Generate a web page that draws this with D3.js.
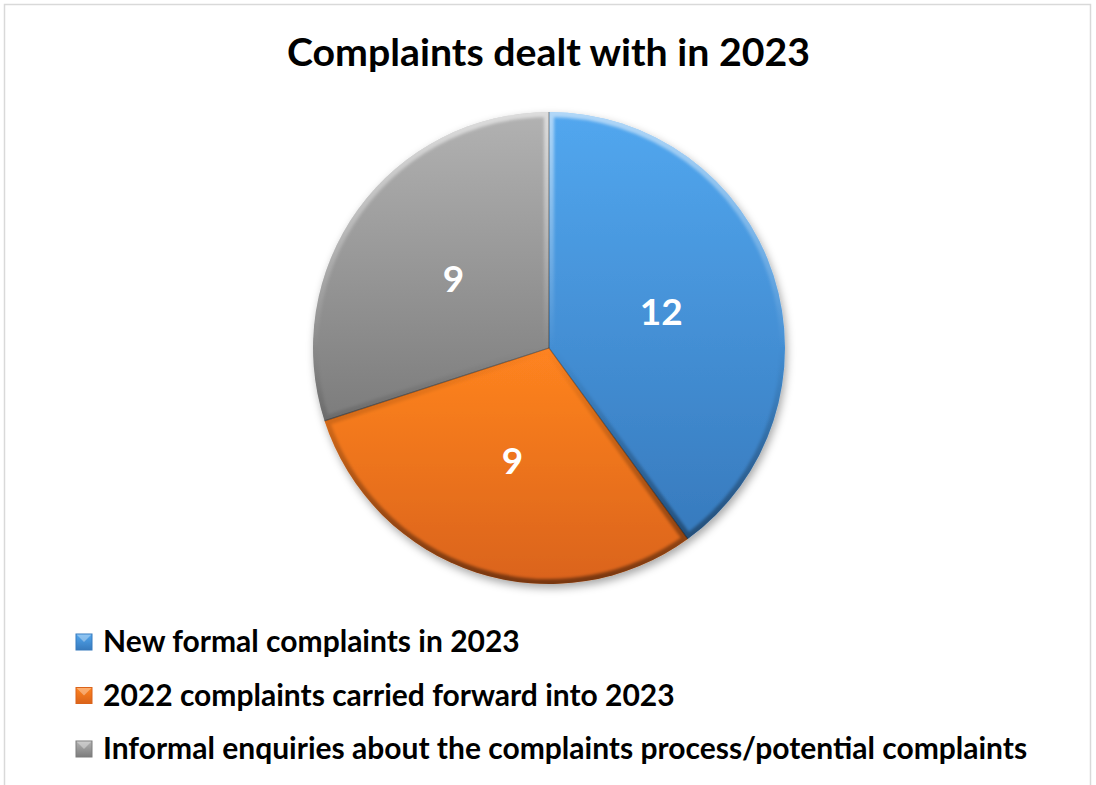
<!DOCTYPE html>
<html><head><meta charset="utf-8">
<script src="https://cdn.jsdelivr.net/npm/d3@7"></script>
<style>
html,body{margin:0;padding:0;background:#fff;}
svg{display:block;}
text{font-family:"Lato","Open Sans",sans-serif;font-weight:bold;}
</style></head>
<body>
<script>
const title = "Complaints dealt with in 2023";
const categories = ["New formal complaints in 2023","2022 complaints carried forward into 2023","Informal enquiries about the complaints process/potential complaints"];
const values = [12, 9, 9];
const topColors = ["#52a7ef","#ff8420","#b2b2b2"];
const bottomColors = ["#377abd","#da631a","#7c7c7c"];

const W = 1096, H = 785;
const svg = d3.select("body").append("svg").attr("width", W).attr("height", H);
const defs = svg.append("defs");

svg.append("rect").attr("x",4.5).attr("y",4.5).attr("width",1086).attr("height",820)
  .attr("fill","#fff").attr("stroke","#d9d9d9").attr("stroke-width",1.5);

svg.append("text").attr("x",548.5).attr("y",66).attr("text-anchor","middle")
  .attr("font-size",38).attr("fill","#000").text(title)
  .attr("textLength",523).attr("lengthAdjust","spacingAndGlyphs");

const cx = 549, cy = 348, R = 236;

categories.forEach((c,i)=>{
  const lg = defs.append("linearGradient").attr("id","g"+i).attr("x1",0).attr("y1",0).attr("x2",0).attr("y2",1);
  lg.append("stop").attr("offset",0).attr("stop-color",topColors[i]);
  lg.append("stop").attr("offset",1).attr("stop-color",bottomColors[i]);
});
const bev = defs.append("linearGradient").attr("id","bev").attr("gradientUnits","userSpaceOnUse")
  .attr("x1",0).attr("y1",-R).attr("x2",0).attr("y2",R);
bev.append("stop").attr("offset",0).attr("stop-color","#fff").attr("stop-opacity",0.55);
bev.append("stop").attr("offset",0.5).attr("stop-color","#fff").attr("stop-opacity",0.0);
bev.append("stop").attr("offset",0.5).attr("stop-color","#000").attr("stop-opacity",0.0);
bev.append("stop").attr("offset",1).attr("stop-color","#000").attr("stop-opacity",0.45);

const sh = defs.append("filter").attr("id","shadow").attr("x","-20%").attr("y","-20%").attr("width","140%").attr("height","140%");
sh.append("feDropShadow").attr("dx",2).attr("dy",4).attr("stdDeviation",4).attr("flood-color","#000").attr("flood-opacity",0.35);
const bl = defs.append("filter").attr("id","blur");
bl.append("feGaussianBlur").attr("stdDeviation",1.5);

const pie = d3.pie().sort(null).value(d=>d);
const arcs = pie(values);
const arc = d3.arc().innerRadius(0).outerRadius(R);

const g = svg.append("g").attr("transform",`translate(${cx},${cy})`);
const pg = g.append("g").attr("filter","url(#shadow)");
pg.selectAll("path.s").data(arcs).join("path").attr("class","s")
  .attr("d",arc).attr("fill",(d,i)=>`url(#g${i})`);

arcs.forEach((d,i)=>{
  defs.append("clipPath").attr("id","c"+i).append("path").attr("d",arc(d));
  g.append("path").attr("d",arc(d)).attr("fill","none").attr("stroke","url(#bev)")
    .attr("stroke-width",10).attr("clip-path",`url(#c${i})`).attr("filter","url(#blur)");
});
g.selectAll("line.sep").data(arcs).join("line").attr("class","sep")
  .attr("x1",0).attr("y1",0)
  .attr("x2",d=>R*Math.sin(d.startAngle)).attr("y2",d=>-R*Math.cos(d.startAngle))
  .attr("stroke","#000").attr("stroke-opacity",0.35).attr("stroke-width",1.2);

g.selectAll("text.lab").data(arcs).join("text").attr("class","lab")
  .attr("x",d=>arc.centroid(d)[0]).attr("y",d=>arc.centroid(d)[1])
  .attr("text-anchor","middle").attr("dy","0.36em")
  .attr("font-size",37).attr("fill","#fff").text(d=>d.data);

const ly = d3.scalePoint().domain(categories).range([642,749]);
const lg = svg.append("g");
categories.forEach((c,i)=>{
  const y = ly(c);
  lg.append("rect").attr("x",76).attr("y",y-8).attr("width",16).attr("height",16)
    .attr("fill",`url(#g${i})`).attr("stroke",bottomColors[i]).attr("stroke-width",1);
  lg.append("path").attr("d",`M76.5,${y-7.5} L84,${y} L91.5,${y-7.5}Z`).attr("fill","#fff").attr("fill-opacity",0.35);
  lg.append("text").attr("x",103).attr("y",y+10).attr("font-size",30).attr("fill","#000").text(c);
});
</script>
</body></html>
